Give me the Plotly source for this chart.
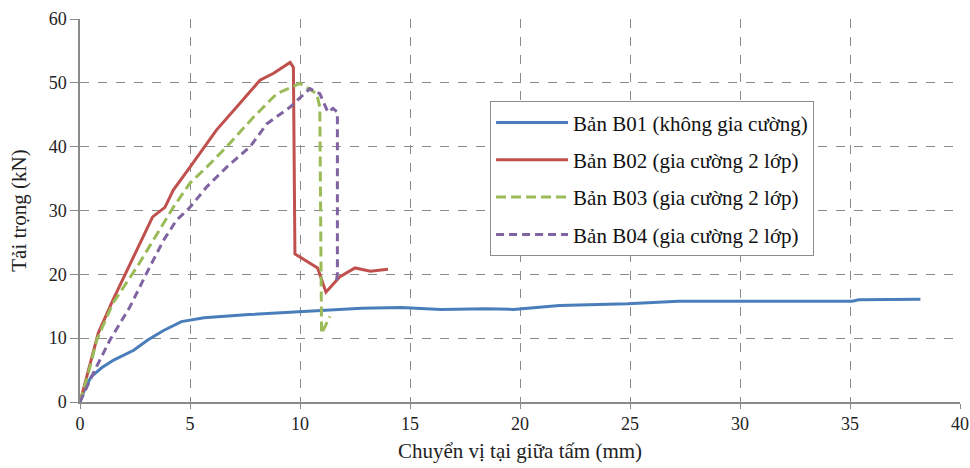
import plotly.graph_objects as go

# B01 (blue, solid)
b01_x = [0, 0.25, 0.51, 1.0, 1.53, 2.44, 3.08, 3.8, 4.61, 5.64, 7.68, 10.77, 12.8, 14.6, 16.4, 18.45, 19.7, 21.8, 24.9, 27.2, 30.8, 35.1, 35.4, 38.2]
b01_y = [0, 2.3, 3.96, 5.4, 6.57, 8.1, 9.7, 11.2, 12.6, 13.2, 13.7, 14.3, 14.7, 14.8, 14.5, 14.6, 14.5, 15.1, 15.4, 15.8, 15.8, 15.8, 16.0, 16.1]

# B02 (red, solid)
b02_x = [0, 0.6, 0.83, 1.5, 2.42, 3.3, 3.86, 4.24, 5.0, 6.2, 7.27, 8.18, 8.8, 9.55, 9.7, 9.77, 10.8, 11.18, 11.8, 12.5, 13.2, 14.0]
b02_y = [0, 7.7, 10.8, 16.0, 22.7, 29.0, 30.5, 33.2, 36.8, 42.6, 46.8, 50.4, 51.5, 53.2, 52.4, 23.2, 21.0, 17.2, 19.6, 21.0, 20.5, 20.8]

# B03 (green, dashed)
b03_x = [0, 0.38, 0.76, 1.5, 2.6, 3.5, 4.24, 5.0, 5.76, 6.67, 7.88, 8.94, 10.0, 10.76, 10.9, 10.98, 11.36]
b03_y = [0, 4.5, 9.7, 15.5, 21.2, 26.4, 30.5, 34.3, 36.8, 40.0, 44.6, 48.3, 49.9, 48.3, 46.2, 10.7, 13.4]

# B04 (purple, dashed)
b04_x = [0, 0.6, 1.36, 2.27, 3.03, 3.79, 4.39, 5.0, 5.76, 6.67, 7.73, 8.5, 9.55, 10.45, 10.9, 11.27, 11.5, 11.7, 11.7, 11.65]
b04_y = [0, 4.5, 9.7, 14.9, 20.2, 25.3, 28.5, 30.5, 33.7, 36.8, 40.0, 43.6, 46.2, 49.1, 48.3, 45.4, 46.0, 45.4, 20.2, 18.6]

names = ["Bản B01 (không gia cường)", "Bản B02 (gia cường 2 lớp)",
         "Bản B03 (gia cường 2 lớp)", "Bản B04 (gia cường 2 lớp)"]
colors = ["#4A7EBB", "#C0504D", "#9BBB59", "#8064A2"]
dashes = ["solid", "solid", "10px,5px", "8px,5px"]

FONT = "Times New Roman, Liberation Serif, DejaVu Serif, serif"

fig = go.Figure()
for i, (xs, ys) in enumerate([(b01_x, b01_y), (b02_x, b02_y), (b03_x, b03_y), (b04_x, b04_y)]):
    fig.add_trace(go.Scatter(
        x=xs, y=ys, mode="lines", name=names[i], legendgroup=f"g{i}",
        line=dict(color=colors[i], width=3, dash=dashes[i]),
    ))

fig.update_layout(
    width=970, height=468,
    margin=dict(l=80, r=10, t=19, b=66),
    paper_bgcolor="white", plot_bgcolor="white",
    font=dict(family=FONT, size=18, color="#222"),
    legend=dict(
        x=0.466, y=0.785, xanchor="left", yanchor="top",
        bordercolor="#8c8c8c", borderwidth=1, bgcolor="white",
        font=dict(family=FONT, size=21, color="#111"),
        tracegroupgap=7, traceorder="grouped", itemwidth=72,
    ),
    showlegend=True,
)
fig.update_xaxes(
    range=[0, 40], tickvals=[0, 5, 10, 15, 20, 25, 30, 35, 40],
    showgrid=True, gridcolor="#8a8a8a", griddash="dash", gridwidth=1,
    showline=True, linecolor="#8a8a8a", linewidth=1.5,
    ticks="outside", ticklen=5, tickcolor="#8a8a8a",
    zeroline=False, automargin=False,
    title=dict(text="Chuyển vị tại giữa tấm (mm)", font=dict(size=21), standoff=10),
)
fig.update_yaxes(
    range=[0, 60], tickvals=[0, 10, 20, 30, 40, 50, 60],
    showgrid=True, gridcolor="#8a8a8a", griddash="dash", gridwidth=1,
    showline=True, linecolor="#8a8a8a", linewidth=1.5,
    ticks="outside", ticklen=8, tickcolor="#8a8a8a",
    zeroline=False, automargin=False,
    title=dict(text="Tải trọng (kN)", font=dict(size=21), standoff=16),
)

fig.write_html(
    "out.html",
    config={"displayModeBar": False},
    post_script="document.body.style.margin='0';document.body.style.overflow='hidden';",
)
